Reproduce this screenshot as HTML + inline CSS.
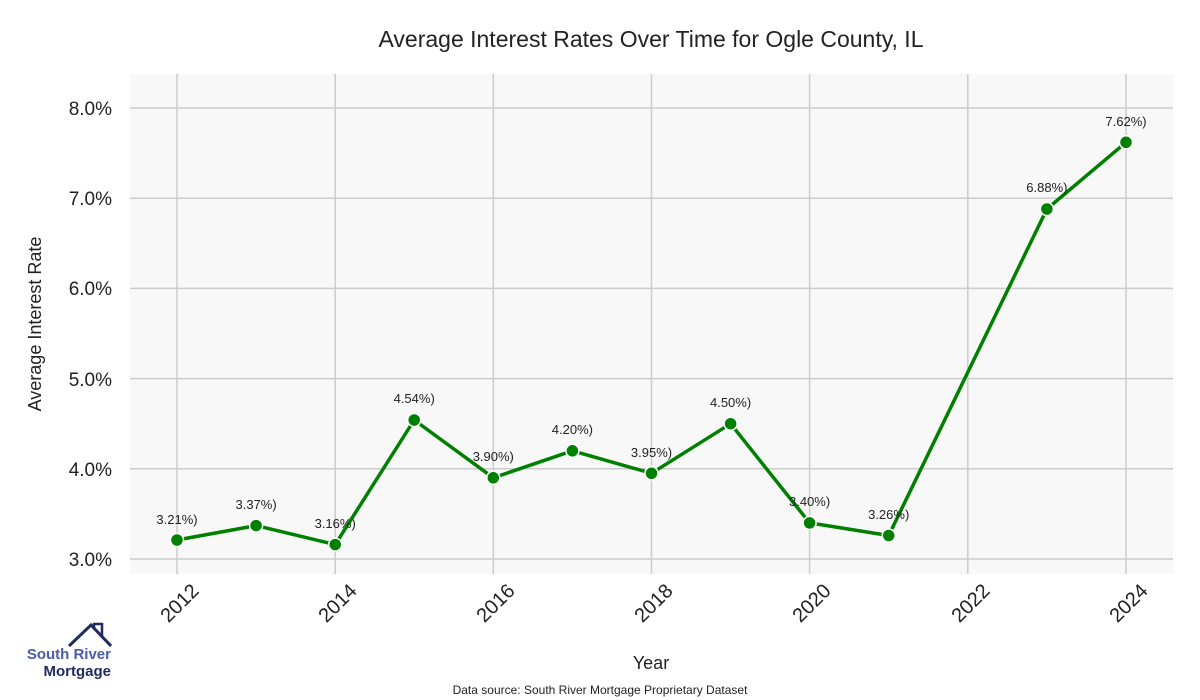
<!DOCTYPE html>
<html><head><meta charset="utf-8"><style>
body{margin:0;background:#fff;}
svg{display:block;font-family:"Liberation Sans",sans-serif;}
</style></head><body>
<svg width="1200" height="700" viewBox="0 0 1200 700">
<rect width="1200" height="700" fill="#fff"/>
<text x="651" y="47" font-size="23" text-anchor="middle" fill="#222">Average Interest Rates Over Time for Ogle County, IL</text>
<rect x="130" y="74" width="1043" height="500" fill="#f8f8f8"/>
<g stroke="#cccccc" stroke-width="1.5">
<line x1="130" x2="1173" y1="108" y2="108"/><line x1="130" x2="1173" y1="198.2" y2="198.2"/>
<line x1="130" x2="1173" y1="288.4" y2="288.4"/><line x1="130" x2="1173" y1="378.6" y2="378.6"/>
<line x1="130" x2="1173" y1="468.8" y2="468.8"/><line x1="130" x2="1173" y1="559" y2="559"/>
<line x1="177" x2="177" y1="74" y2="574"/><line x1="335.2" x2="335.2" y1="74" y2="574"/>
<line x1="493.3" x2="493.3" y1="74" y2="574"/><line x1="651.5" x2="651.5" y1="74" y2="574"/>
<line x1="809.6" x2="809.6" y1="74" y2="574"/><line x1="967.8" x2="967.8" y1="74" y2="574"/>
<line x1="1126" x2="1126" y1="74" y2="574"/>
</g>
<g font-size="19" fill="#222" text-anchor="end">
<text x="112" y="115">8.0%</text><text x="112" y="205">7.0%</text><text x="112" y="295">6.0%</text>
<text x="112" y="386">5.0%</text><text x="112" y="476">4.0%</text><text x="112" y="566">3.0%</text>
</g>
<text transform="translate(41,324) rotate(-90)" font-size="18" text-anchor="middle" fill="#222">Average Interest Rate</text>
<g font-size="20" fill="#222" text-anchor="end">
<text transform="translate(200,592) rotate(-45)">2012</text>
<text transform="translate(358,592) rotate(-45)">2014</text>
<text transform="translate(516,592) rotate(-45)">2016</text>
<text transform="translate(674,592) rotate(-45)">2018</text>
<text transform="translate(832,592) rotate(-45)">2020</text>
<text transform="translate(991,592) rotate(-45)">2022</text>
<text transform="translate(1149,592) rotate(-45)">2024</text>
</g>
<text x="651" y="669" font-size="18" text-anchor="middle" fill="#222">Year</text>
<text x="600" y="694" font-size="12" text-anchor="middle" fill="#222">Data source: South River Mortgage Proprietary Dataset</text>
<polyline fill="none" stroke="#008000" stroke-width="3.5" stroke-linejoin="round" points="177,540 256.1,525.6 335.2,544.6 414.2,420 493.3,477.8 572.4,450.8 651.5,473.3 730.6,423.7 809.6,522.9 888.7,535.5 1046.9,209 1126,142.3"/>
<g fill="#008000" stroke="#fff" stroke-width="1.5">
<circle cx="177" cy="540" r="6.5"/><circle cx="256.1" cy="525.6" r="6.5"/><circle cx="335.2" cy="544.6" r="6.5"/>
<circle cx="414.2" cy="420" r="6.5"/><circle cx="493.3" cy="477.8" r="6.5"/><circle cx="572.4" cy="450.8" r="6.5"/>
<circle cx="651.5" cy="473.3" r="6.5"/><circle cx="730.6" cy="423.7" r="6.5"/><circle cx="809.6" cy="522.9" r="6.5"/>
<circle cx="888.7" cy="535.5" r="6.5"/><circle cx="1046.9" cy="209" r="6.5"/><circle cx="1126" cy="142.3" r="6.5"/>
</g>
<g font-size="13" fill="#222" text-anchor="middle">
<text x="177" y="524">3.21%)</text><text x="256.1" y="509">3.37%)</text><text x="335.2" y="528">3.16%)</text>
<text x="414.2" y="403">4.54%)</text><text x="493.3" y="461">3.90%)</text><text x="572.4" y="434">4.20%)</text>
<text x="651.5" y="457">3.95%)</text><text x="730.6" y="407">4.50%)</text><text x="809.6" y="506">3.40%)</text>
<text x="888.7" y="519">3.26%)</text><text x="1046.9" y="192">6.88%)</text><text x="1126" y="126">7.62%)</text>
</g>
<polyline fill="none" stroke="#1f2a5e" stroke-width="3" points="69,646 91,625 111,646"/>
<polyline fill="none" stroke="#1f2a5e" stroke-width="2.5" points="94,628 94,624 102,624 102,638"/>
<text x="111" y="659" font-size="15" font-weight="bold" text-anchor="end" fill="#4a5dab">South River</text>
<text x="111" y="676" font-size="15" font-weight="bold" text-anchor="end" fill="#1f2a5e">Mortgage</text>
</svg>
</body></html>
